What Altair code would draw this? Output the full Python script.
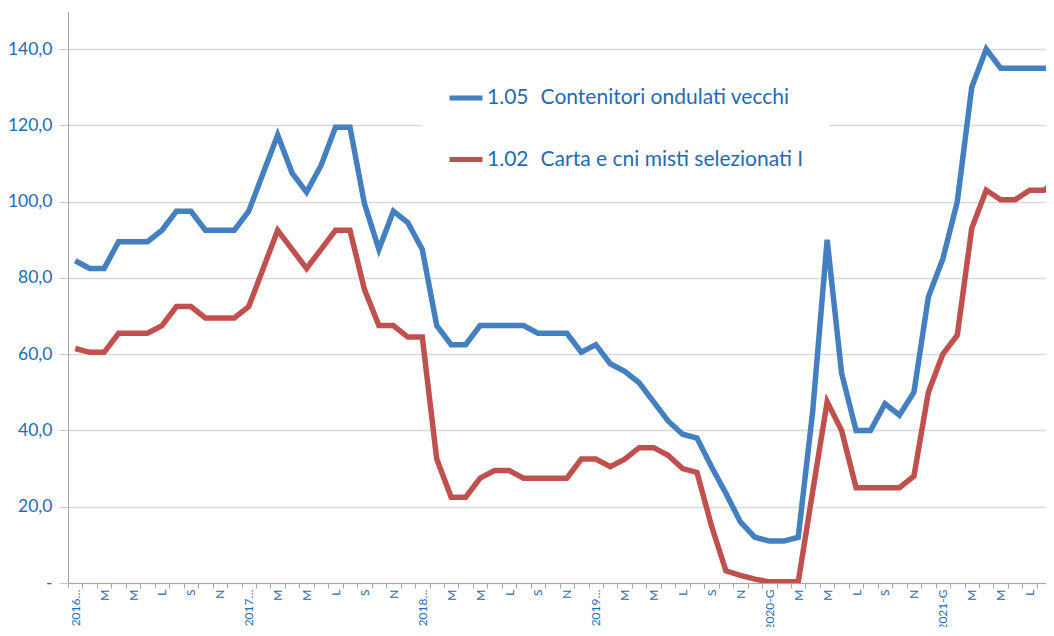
import json
import altair as alt
import pandas as pd

# Months Jan 2016 .. Sep 2021 (index 0..68)
blue_values = [84.5, 82.5, 82.5, 89.5, 89.5, 89.5, 92.5, 97.5, 97.5, 92.5, 92.5, 92.5,
               97.5, 107.5, 117.5, 107.5, 102.5, 109.5, 119.5, 119.5, 99.5, 87.5, 97.5, 94.5,
               87.5, 67.5, 62.5, 62.5, 67.5, 67.5, 67.5, 67.5, 65.5, 65.5, 65.5, 60.5,
               62.5, 57.5, 55.5, 52.5, 47.5, 42.5, 39.0, 38.0, 30.5, 23.5, 16.0, 12.0,
               11.0, 11.0, 12.0, 45.0, 90.0, 55.0, 40.0, 40.0, 47.0, 44.0, 50.0, 75.0,
               85.0, 100.0, 130.0, 140.0, 135.0, 135.0, 135.0, 135.0, 135.0]
red_values = [61.5, 60.5, 60.5, 65.5, 65.5, 65.5, 67.5, 72.5, 72.5, 69.5, 69.5, 69.5,
              72.5, 82.5, 92.5, 87.5, 82.5, 87.5, 92.5, 92.5, 77.0, 67.5, 67.5, 64.5,
              64.5, 32.5, 22.5, 22.5, 27.5, 29.5, 29.5, 27.5, 27.5, 27.5, 27.5, 32.5,
              32.5, 30.5, 32.5, 35.5, 35.5, 33.5, 30.0, 29.0, 15.0, 3.2, 2.0, 1.0,
              0.3, 0.3, 0.3, 24.0, 47.5, 40.0, 25.0, 25.0, 25.0, 25.0, 28.0, 50.0,
              60.0, 65.0, 93.0, 103.0, 100.5, 100.5, 103.0, 103.0, 106.0]

series_names = ["1.05\u00a0\u00a0\u200aContenitori ondulati vecchi",
                "1.02\u00a0\u00a0\u200aCarta e cni misti selezionati I"]
series_colors = ["#4480C0", "#C0504D"]

# labels shown every second month (index 0, 2, 4, ...)
tick_labels = ["2016\u2026", "M", "M", "L", "S", "N",
               "2017\u2026", "M", "M", "L", "S", "N",
               "2018\u2026", "M", "M", "L", "S", "N",
               "2019\u2026", "M", "M", "L", "S", "N",
               "2020-G", "M", "M", "L", "S", "N",
               "2021-G", "M", "M", "L", "S"]

y_ticks = [0, 20, 40, 60, 80, 100, 120, 140]

rows = []
for i, v in enumerate(blue_values):
    rows.append({"idx": i, "value": v, "series": series_names[0]})
for i, v in enumerate(red_values):
    rows.append({"idx": i, "value": v, "series": series_names[1]})
df = pd.DataFrame(rows)

FONT = "Lato"
TXT = "#1F6BB5"
PLOT_W = 978
step = 14.46
x_max = -0.5 + PLOT_W / step

label_expr = ("(datum.value + 0.5) % 2 == 0 ? "
              + json.dumps(tick_labels, ensure_ascii=False)
              + "[(datum.value + 0.5) / 2] : ''")

chart = alt.Chart(df).mark_line(strokeWidth=5.5, clip=True).encode(
    x=alt.X("idx:Q",
            scale=alt.Scale(domain=[-0.5, x_max], nice=False, zero=False),
            axis=alt.Axis(values=[i - 0.5 for i in range(69)],
                          labelExpr=label_expr, labelOffset=step / 2,
                          labelAngle=-90, labelAlign="right", labelBaseline="middle",
                          labelOverlap=False, labelFlush=False,
                          labelFont=FONT, labelFontSize=12, labelColor=TXT,
                          labelPadding=1, tickSize=5, tickColor="#A6A6A6",
                          domainColor="#A6A6A6", grid=False, title=None)),
    y=alt.Y("value:Q",
            scale=alt.Scale(domain=[0, 150], nice=False),
            axis=alt.Axis(values=y_ticks,
                          labelExpr="datum.value == 0 ? '-' : replace(format(datum.value, '.1f'), '.', ',')",
                          labelFont=FONT, labelFontSize=17.5, labelColor=TXT,
                          labelPadding=7, tickSize=9, tickColor="#C8C8C8",
                          domainColor="#A6A6A6", gridColor="#D9D9D9", gridWidth=1.3,
                          title=None)),
    color=alt.Color("series:N",
                    scale=alt.Scale(domain=series_names, range=series_colors),
                    sort=series_names,
                    legend=alt.Legend(orient="none", legendX=354, legendY=43,
                                      title=None, symbolType="stroke", symbolSize=1089,
                                      symbolStrokeWidth=5, labelFont=FONT, labelFontSize=21,
                                      labelColor=TXT, labelLimit=700, labelOffset=2,
                                      rowPadding=32.5, fillColor="white", padding=25)),
).properties(
    width=PLOT_W, height=572,
    padding={"left": 60, "top": 3, "right": 0, "bottom": 44},
    autosize=alt.AutoSizeParams(type="none"),
).configure_view(stroke=None)

chart.save("out.html", embed_options={"renderer": "svg", "actions": False})
